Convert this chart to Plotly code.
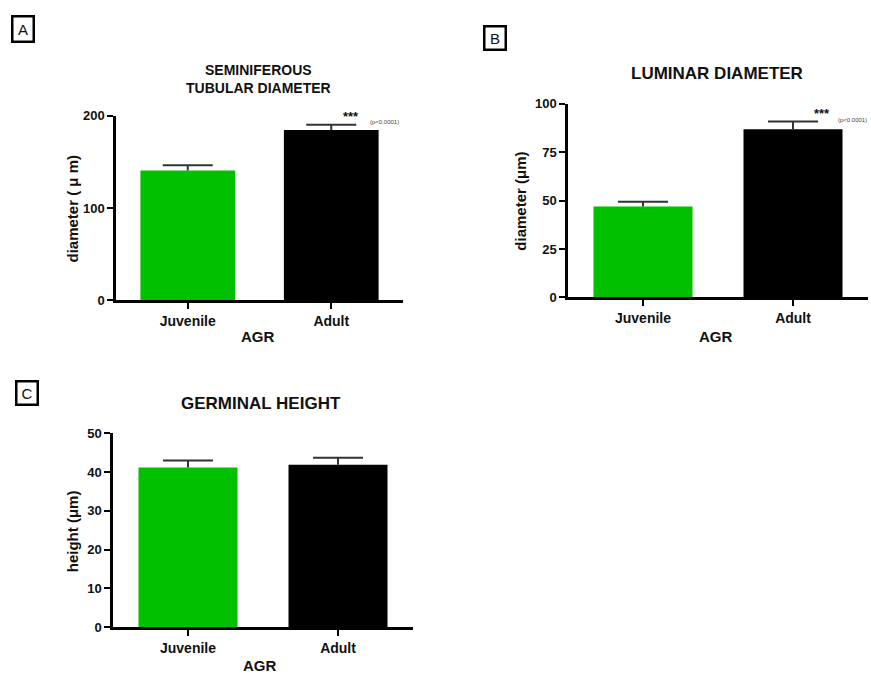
import plotly.graph_objects as go

W, H = 871, 685

categories = ["Juvenile", "Adult"]
bar_colors = ["#00c000", "#000000"]

# Panel A - seminiferous tubular diameter (µm)
a_values = [140.7, 184.4]
a_errors = [5.5, 5.6]
a_ticks = [0, 100, 200]

# Panel B - luminar diameter (µm)
b_values = [47.0, 86.9]
b_errors = [2.5, 4.0]
b_ticks = [0, 25, 50, 75, 100]

# Panel C - germinal height (µm)
c_values = [41.2, 41.9]
c_errors = [1.8, 1.8]
c_ticks = [0, 10, 20, 30, 40, 50]


def px_x(x):
    return x / W


def px_y(y):
    return 1 - y / H


FONT = "Liberation Sans, Arial, sans-serif"

fig = go.Figure()

panels = [
    # values, errors, ticks, ymax, x0, x1, ytop, ybot, axis suffix
    (a_values, a_errors, a_ticks, 200, 116, 403, 111, 300, ""),
    (b_values, b_errors, b_ticks, 100, 568, 868, 99, 297, "2"),
    (c_values, c_errors, c_ticks, 50, 113, 413, 436, 634, "3"),
]

for vals, errs, ticks, ymax, x0, x1, yt, yb, sfx in panels:
    # bars with error stems (no caps)
    fig.add_trace(go.Bar(
        x=categories, y=vals,
        marker=dict(color=bar_colors, line=dict(width=0)),
        width=0.66,
        error_y=dict(type="data", array=errs, arrayminus=[0] * len(errs), symmetric=False,
                     color="#333333", thickness=2, width=0),
        xaxis="x" + sfx, yaxis="y" + sfx,
        showlegend=False, hoverinfo="skip",
    ))
    # error caps at the top of each error bar
    fig.add_trace(go.Scatter(
        x=categories, y=[v + e for v, e in zip(vals, errs)],
        mode="markers", marker=dict(size=1, opacity=0),
        error_y=dict(type="data", array=[0] * len(vals), color="#333333",
                     thickness=2, width=25),
        xaxis="x" + sfx, yaxis="y" + sfx,
        showlegend=False, hoverinfo="skip",
    ))
    xa = dict(
        domain=[px_x(x0), px_x(x1)], anchor="y" + sfx,
        showline=True, linecolor="black", linewidth=2.5,
        ticks="outside", ticklen=6, tickwidth=2, tickcolor="black",
        tickfont=dict(family=FONT, size=14, color="#111111", weight="bold"),
        showgrid=False, zeroline=False, fixedrange=True,
    )
    ya = dict(
        domain=[px_y(yb), px_y(yt)], anchor="x" + sfx,
        range=[0, ymax],
        tickmode="array", tickvals=ticks, ticktext=[str(t) for t in ticks],
        showline=True, linecolor="black", linewidth=2.5,
        ticks="outside", ticklen=6, tickwidth=2, tickcolor="black",
        tickfont=dict(family=FONT, size=13, color="#111111", weight="bold"),
        showgrid=False, zeroline=False, fixedrange=True,
    )
    fig.update_layout(**{"xaxis" + sfx: xa, "yaxis" + sfx: ya})

annotations = []


def ann(text, x, y, size, rot=0, xanchor="center", yanchor="middle", **kw):
    annotations.append(dict(
        text=text, x=px_x(x), y=px_y(y), xref="paper", yref="paper",
        showarrow=False, textangle=rot, xanchor=xanchor, yanchor=yanchor,
        font=dict(family=FONT, size=size, color="#111111", weight="bold"), **kw))


# Titles
ann("SEMINIFEROUS<br>TUBULAR DIAMETER", 258, 74, 14)
ann("LUMINAR DIAMETER", 717, 68, 17)
ann("GERMINAL HEIGHT", 261, 405, 17)

# Y-axis titles
ann("diameter ( \u03bc m)", 72, 206, 15, rot=-90)
ann("diameter (\u03bcm)", 521, 199, 15, rot=-90)
ann("height (\u03bcm)", 72, 536, 15, rot=-90)

# X-axis titles
ann("AGR", 258, 337, 15)
ann("AGR", 716, 337, 15)
ann("AGR", 260, 673, 15)

# Significance
ann("***", 351, 112, 13)
ann("***", 822, 109, 13)
annotations.append(dict(text="(p<0.0001)", x=px_x(368), y=px_y(118), xref="paper", yref="paper",
                        showarrow=False, xanchor="left", yanchor="middle",
                        font=dict(family=FONT, size=6, color="#444444")))
annotations.append(dict(text="(p<0.0001)", x=px_x(836), y=px_y(116), xref="paper", yref="paper",
                        showarrow=False, xanchor="left", yanchor="middle",
                        font=dict(family=FONT, size=6, color="#444444")))

# Panel letters in boxes
for letter, x, y, bh in [("A", 23, 23, 19), ("B", 495, 32, 17), ("C", 27, 395, 17)]:
    annotations.append(dict(
        text=letter, x=px_x(x), y=px_y(y), xref="paper", yref="paper",
        showarrow=False, xanchor="center", yanchor="middle",
        width=15, height=bh, align="center", valign="middle",
        font=dict(family=FONT, size=15, color="#111111"),
        bordercolor="black", borderwidth=2.5, borderpad=2, bgcolor="white"))

fig.update_layout(
    width=W, height=H,
    margin=dict(l=0, r=0, t=0, b=0),
    paper_bgcolor="white", plot_bgcolor="white",
    annotations=annotations,
    bargap=0.34,
)

post = (
    "document.documentElement.style.margin='0';"
    "document.body.style.margin='0';"
    "document.body.style.overflow='hidden';"
    "document.documentElement.style.overflow='hidden';"
    "var gd=document.getElementById('{plot_id}');"
    "Plotly.relayout(gd,{width:%d,height:%d});" % (W, H)
)

fig.write_html("out.html", config={"responsive": False, "displayModeBar": False},
               post_script=post)
